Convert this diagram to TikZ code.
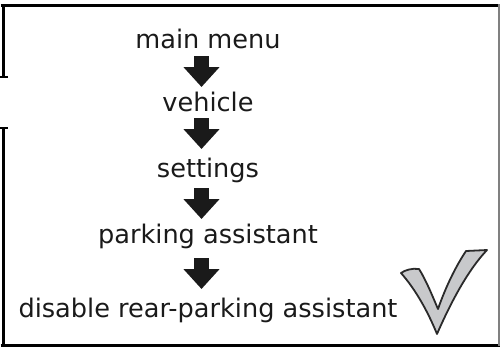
\documentclass[tikz,border=0pt]{standalone}
\usepackage{fontspec}
\setmainfont{DejaVu Sans}
\usetikzlibrary{arrows.meta,calc}
\definecolor{txt}{HTML}{1A1A1A}
\definecolor{chkfill}{HTML}{C8C9CB}
\definecolor{chkline}{HTML}{2A2A2A}
\tikzset{
  lbl/.style={anchor=base,inner sep=0pt,text=txt,font=\fontsize{25.6}{30}\selectfont},
  blk/.style={line width=15pt,draw=txt,-{Triangle[width=35pt,length=20pt]}},
  frm/.style={line width=3pt,draw=black},
}
\begin{document}
\begin{tikzpicture}[x=1pt,y=-1pt]
\useasboundingbox (0,0) rectangle (500,349);
% frame
\draw[frm] (0.5,5) -- (500,5);
\draw[frm] (0.5,345.5) -- (500,345.5);
\draw[frm] (3,4) -- (3,77);
\draw[line width=2pt] (0,77) -- (7.5,77);
\draw[frm] (3,128) -- (3,347);
\draw[line width=2pt] (0,128) -- (7.5,128);
\draw[line width=1.5pt,draw=gray] (499,4) -- (499,346);
% labels
\node[lbl] (m) at (208,48) {main menu};
\node[lbl] (v) at (208,111) {vehicle};
\node[lbl] (s) at (208,177) {settings};
\node[lbl] (p) at (208,243) {parking assistant};
\node[lbl] (d) at (208,317) {disable rear-parking assistant};
% arrows
\draw[blk] ($(m.base)+(-6.5,8)$) -- ($(v.base)+(-6.5,-24)$);
\draw[blk] ($(v.base)+(-6.5,7)$) -- ($(s.base)+(-6.5,-28)$);
\draw[blk] ($(s.base)+(-6.5,11)$) -- ($(p.base)+(-6.5,-24)$);
\draw[blk] ($(p.base)+(-6.5,15)$) -- ($(d.base)+(-6.5,-28)$);
% check mark
\filldraw[fill=chkfill,draw=chkline,line width=1.8pt,line join=round]
  (401,273) .. controls (416,290) and (428,312) .. (437,334)
  .. controls (451,302) and (468,270) .. (487,250)
  -- (466,251)
  .. controls (456,266) and (446,286) .. (438,309)
  .. controls (432,295) and (426,280) .. (419,269)
  .. controls (412,268) and (405,270) .. cycle;
\end{tikzpicture}
\end{document}
